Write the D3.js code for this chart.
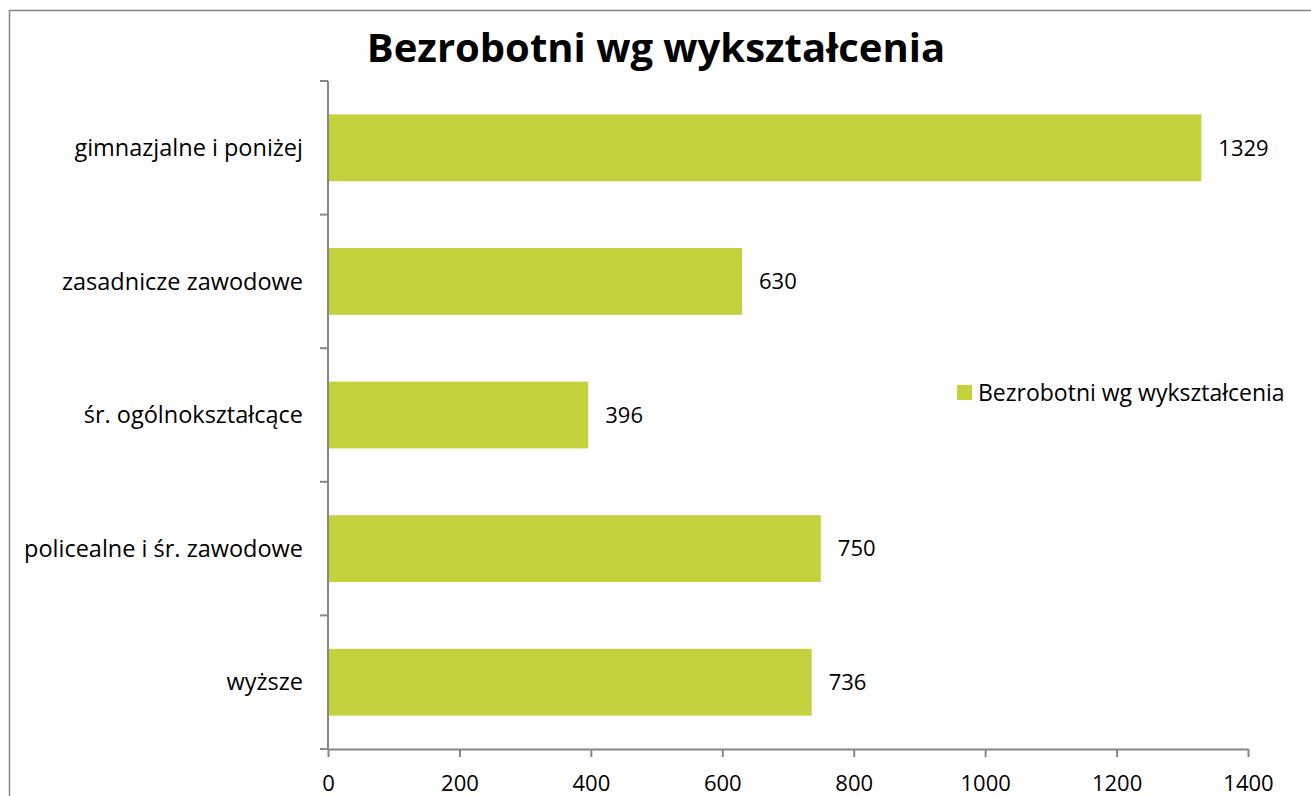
<!DOCTYPE html>
<html>
<head>
<meta charset="utf-8">
<script src="https://cdn.jsdelivr.net/npm/d3@7"></script>
<style>
  body { margin: 0; background: #fff; }
  svg text { font-family: "Open Sans", Lato, sans-serif; fill: #000; }
</style>
</head>
<body>
<svg id="chart"></svg>
<script>
const categories = ["gimnazjalne i poniżej", "zasadnicze zawodowe", "śr. ogólnokształcące", "policealne i śr. zawodowe", "wyższe"];
const values = [1329, 630, 396, 750, 736];
const xTicks = [0, 200, 400, 600, 800, 1000, 1200, 1400];
const title = "Bezrobotni wg wykształcenia";
const seriesName = "Bezrobotni wg wykształcenia";

const W = 1311, H = 796;
const margin = {top: 81, left: 328, right: 63, bottom: 47};
const width = W - margin.left - margin.right;
const height = H - margin.top - margin.bottom;
const barColor = "#c3d13c";
const axisColor = "#868686";

const svg = d3.select("#chart").attr("width", W).attr("height", H);

// outer chart border
svg.append("rect")
    .attr("x", 9.5).attr("y", 10.5)
    .attr("width", W).attr("height", H)
    .attr("fill", "none").attr("stroke", axisColor).attr("stroke-width", 1.5);

svg.append("text")
    .attr("x", 656).attr("y", 62)
    .attr("text-anchor", "middle")
    .attr("font-size", "40px").attr("font-weight", "bold")
    .text(title);

const g = svg.append("g").attr("transform", "translate(" + margin.left + "," + margin.top + ")");

const xScale = d3.scaleLinear().domain([0, 1400]).range([0, width]);
const yScale = d3.scaleBand().domain(categories).range([0, height]).paddingInner(0.5).paddingOuter(0.25);

// x axis
const xAxis = g.append("g")
    .attr("transform", "translate(0," + height + ")")
    .call(d3.axisBottom(xScale).tickValues(xTicks).tickFormat(d3.format("d")).tickSize(8).tickSizeOuter(0).tickPadding(18));
xAxis.select(".domain").attr("stroke", axisColor).attr("stroke-width", 2);
xAxis.selectAll(".tick line").attr("stroke", axisColor).attr("stroke-width", 2);
xAxis.selectAll(".tick text").attr("font-size", "22px").attr("fill", "#000");

// y axis: line + boundary ticks
g.append("line")
    .attr("x1", 0).attr("x2", 0).attr("y1", 0).attr("y2", height)
    .attr("stroke", axisColor).attr("stroke-width", 2);
g.selectAll("line.ytick")
    .data(d3.range(categories.length + 1))
    .enter().append("line")
    .attr("class", "ytick")
    .attr("x1", -8).attr("x2", 0)
    .attr("y1", (d) => d * height / categories.length)
    .attr("y2", (d) => d * height / categories.length)
    .attr("stroke", axisColor).attr("stroke-width", 2);

g.selectAll("text.cat")
    .data(categories)
    .enter().append("text")
    .attr("class", "cat")
    .attr("x", -25)
    .attr("y", (d) => yScale(d) + yScale.bandwidth() / 2)
    .attr("dy", "0.35em")
    .attr("text-anchor", "end")
    .attr("font-size", "23.5px")
    .text((d) => d);

const bars = g.selectAll("g.bar")
    .data(categories.map((c, i) => ({label: c, value: values[i]})))
    .enter().append("g").attr("class", "bar");

bars.append("rect")
    .attr("x", 1)
    .attr("y", (d) => yScale(d.label))
    .attr("width", (d) => xScale(d.value) - 1)
    .attr("height", yScale.bandwidth())
    .attr("fill", barColor);

bars.append("text")
    .attr("x", (d) => xScale(d.value) + 17)
    .attr("y", (d) => yScale(d.label) + yScale.bandwidth() / 2)
    .attr("dy", "0.35em")
    .attr("font-size", "22px")
    .text((d) => d.value);

// legend
const legend = svg.append("g").attr("transform", "translate(957,385)");
legend.append("rect").attr("width", 15).attr("height", 15).attr("fill", barColor);
legend.append("text").attr("x", 21).attr("y", 8).attr("dy", "0.35em")
    .attr("font-size", "23px").text(seriesName);
</script>
</body>
</html>
